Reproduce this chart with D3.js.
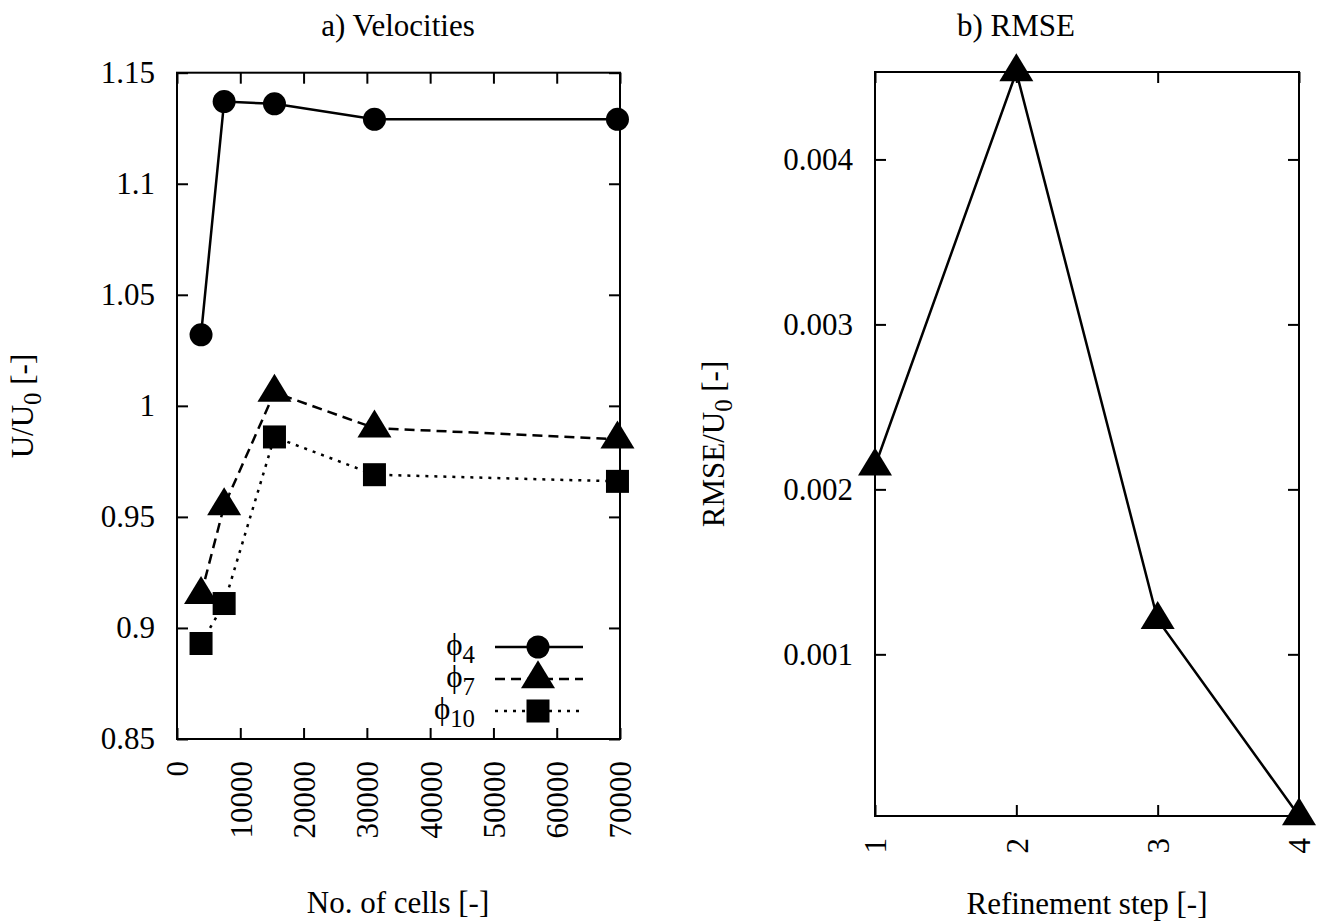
<!DOCTYPE html>
<html>
<head>
<meta charset="utf-8">
<script src="https://cdn.jsdelivr.net/npm/d3@7"></script>
<style>
    body { margin: 0; background: #fff; }
    svg { display: block; }
    svg text { font-family: "Liberation Serif", "Times New Roman", "DejaVu Serif", serif; }
</style>
</head>
<body>
<svg id="svg" width="1321" height="924"></svg>
<script>
// a) velocities against mesh size
const cells = [3800, 7450, 15400, 31200, 69600]
const phi4 = [1.032, 1.137, 1.136, 1.129, 1.129]
const phi7 = [0.915, 0.955, 1.006, 0.990, 0.985]
const phi10 = [0.893, 0.911, 0.986, 0.969, 0.966]
const seriesNames = ['4', '7', '10']

const cellTicks = [0, 10000, 20000, 30000, 40000, 50000, 60000, 70000]
const velTicks = [0.85, 0.9, 0.95, 1, 1.05, 1.1, 1.15]

// b) RMSE against refinement step
const steps = [1, 2, 3, 4]
const rmse = [0.00214, 0.00453, 0.00121, 0.00002]
const rmseTicks = [0.001, 0.002, 0.003, 0.004]

const fontSize = 31
const fontFamily = '"Liberation Serif", "Times New Roman", "DejaVu Serif", serif'
const tickLen = 11
const svg = d3.select('#svg')

const panels = {
    a: { left: 177, right: 620, top: 72.7, bottom: 739 },
    b: { left: 875, right: 1299, top: 72, bottom: 816 }
}

function styleAxis(g) {
    g.attr('font-size', fontSize)
        .attr('font-family', fontFamily)
    g.select('.domain').remove()
    g.selectAll('line').attr('stroke', '#000').attr('stroke-width', 2)
    g.selectAll('text').attr('fill', '#000').attr('font-family', fontFamily)
}

function drawFrame(p) {
    svg.append('rect')
        .attr('x', p.left).attr('y', p.top)
        .attr('width', p.right - p.left).attr('height', p.bottom - p.top)
        .attr('fill', 'none').attr('stroke', '#000').attr('stroke-width', 2)
}

function drawAxes(p, x, y, xTicks, yTicks, xFmt, yFmt) {
    // bottom axis with rotated labels
    svg.append('g')
        .attr('transform', `translate(0,${p.bottom})`)
        .call(d3.axisBottom(x).tickValues(xTicks).tickSize(-tickLen).tickSizeOuter(0).tickFormat(xFmt))
        .call(styleAxis)
        .selectAll('text')
            .attr('transform', 'rotate(-90)')
            .attr('text-anchor', 'end')
            .attr('x', -22).attr('y', 0).attr('dy', '0.35em')

    svg.append('g')
        .attr('transform', `translate(0,${p.top})`)
        .call(d3.axisTop(x).tickValues(xTicks).tickSize(-tickLen).tickSizeOuter(0).tickFormat(''))
        .call(styleAxis)

    svg.append('g')
        .attr('transform', `translate(${p.left},0)`)
        .call(d3.axisLeft(y).tickValues(yTicks).tickSize(-tickLen).tickSizeOuter(0).tickPadding(22).tickFormat(yFmt))
        .call(styleAxis)

    svg.append('g')
        .attr('transform', `translate(${p.right},0)`)
        .call(d3.axisRight(y).tickValues(yTicks).tickSize(-tickLen).tickSizeOuter(0).tickFormat(''))
        .call(styleAxis)
}

// marker shapes, triangle centred on its centroid like gnuplot
function trianglePath() {
    const h = 28, w = 17
    return `M0,${-h * 2 / 3}L${w},${h / 3}L${-w},${h / 3}Z`
}

function drawMarker(g, type, cx, cy) {
    if (type === 'circle')
        g.append('circle').attr('cx', cx).attr('cy', cy).attr('r', 11.5).attr('fill', '#000')
    else if (type === 'square')
        g.append('rect').attr('x', cx - 11.5).attr('y', cy - 11.5).attr('width', 23).attr('height', 23).attr('fill', '#000')
    else
        g.append('path').attr('d', trianglePath()).attr('transform', `translate(${cx},${cy})`).attr('fill', '#000')
}

function addText(x, y, parts, opts) {
    const t = svg.append('text')
        .attr('x', x).attr('y', y)
        .attr('font-size', fontSize)
        .attr('font-family', fontFamily)
        .attr('fill', '#000')
        .attr('text-anchor', opts && opts.anchor || 'middle')
    if (opts && opts.rotate)
        t.attr('transform', `rotate(-90 ${x} ${y})`)
    parts.forEach((part) => {
        const span = t.append('tspan').text(part.text)
        if (part.sub) {
            span.attr('font-size', fontSize * 0.8).attr('dy', 8)
        } else if (part.after) {
            span.attr('dy', -8)
        }
    })
    return t
}

// ---------- panel a ----------
const pa = panels.a
const xa = d3.scaleLinear().domain([0, 70000]).range([pa.left, pa.right])
const ya = d3.scaleLinear().domain([0.85, 1.15]).range([pa.bottom, pa.top])

drawAxes(pa, xa, ya, cellTicks, velTicks, d3.format('d'), (d) => String(+d.toFixed(2)))

const velSeries = [
    { name: seriesNames[0], values: phi4, marker: 'circle', dash: null },
    { name: seriesNames[1], values: phi7, marker: 'triangle', dash: '10,6' },
    { name: seriesNames[2], values: phi10, marker: 'square', dash: '3,6' }
]

const lineA = d3.line()
    .x((d) => xa(d[0]))
    .y((d) => ya(d[1]))

velSeries.forEach((s) => {
    const pts = cells.map((c, i) => [c, s.values[i]])
    svg.append('path')
        .datum(pts)
        .attr('d', lineA)
        .attr('fill', 'none')
        .attr('stroke', '#000')
        .attr('stroke-width', 2.5)
        .attr('stroke-dasharray', s.dash)
    const g = svg.append('g')
    pts.forEach((p) => drawMarker(g, s.marker, xa(p[0]), ya(p[1])))
})

// legend
const legendRows = [647, 679, 711]
velSeries.forEach((s, i) => {
    const ly = legendRows[i]
    addText(475, ly + 8, [{ text: 'ϕ' }, { text: s.name, sub: true }], { anchor: 'end' })
    svg.append('line')
        .attr('x1', 495).attr('x2', 583)
        .attr('y1', ly).attr('y2', ly)
        .attr('stroke', '#000').attr('stroke-width', 2.5)
        .attr('stroke-dasharray', s.dash)
    drawMarker(svg.append('g'), s.marker, 538, ly)
})

addText(398, 36, [{ text: 'a) Velocities' }])
addText(398, 913, [{ text: 'No. of cells [-]' }])
addText(33, 406, [{ text: 'U/U' }, { text: '0', sub: true }, { text: ' [-]', after: true }], { rotate: true })

// ---------- panel b ----------
const pb = panels.b
const xb = d3.scaleLinear().domain(d3.extent(steps)).range([pb.left, pb.right])
const yb = d3.scaleLinear().domain(d3.extent(rmse)).range([pb.bottom, pb.top])

drawAxes(pb, xb, yb, steps, rmseTicks, d3.format('d'), d3.format('.3f'))

const lineB = d3.line()
    .x((d) => xb(d[0]))
    .y((d) => yb(d[1]))

const ptsB = steps.map((s, i) => [s, rmse[i]])
svg.append('path')
    .datum(ptsB)
    .attr('d', lineB)
    .attr('fill', 'none')
    .attr('stroke', '#000')
    .attr('stroke-width', 2.5)
const gb = svg.append('g')
ptsB.forEach((p) => drawMarker(gb, 'triangle', xb(p[0]), yb(p[1])))

drawFrame(pa)
drawFrame(pb)

addText(1016, 36, [{ text: 'b) RMSE' }])
addText(1087, 914, [{ text: 'Refinement step [-]' }])
addText(724, 444, [{ text: 'RMSE/U' }, { text: '0', sub: true }, { text: ' [-]', after: true }], { rotate: true })
</script>
</body>
</html>
